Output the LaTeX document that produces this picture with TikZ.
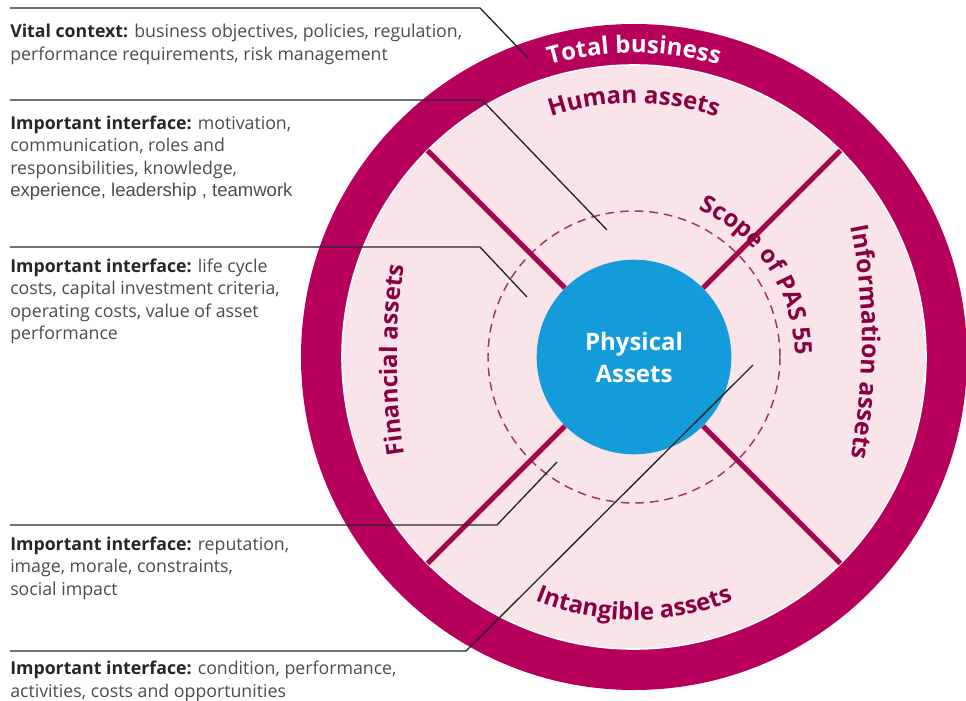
\documentclass[tikz,border=0pt]{standalone}
\usepackage{fontspec}
\setmainfont{Open Sans}
\newfontfamily\arialfont{Liberation Sans}
\usetikzlibrary{decorations.text}

\definecolor{ringred}{RGB}{182,0,92}
\definecolor{sectorpink}{RGB}{249,228,233}
\definecolor{labelred}{RGB}{138,0,62}
\definecolor{divred}{RGB}{165,8,78}
\definecolor{physblue}{RGB}{20,155,218}
\definecolor{notegray}{RGB}{75,75,75}

\newcommand{\arcfont}{\fontsize{18}{20}\selectfont\bfseries}
\newcommand{\lead}[1]{\textcolor{black!85}{\bfseries #1}}

\begin{document}
\begin{tikzpicture}[
	x=0.75pt, y=0.75pt,
	note/.style={
		anchor=north west,
		align=left,
		inner xsep=0pt,
		inner ysep=8.5pt,
		text=notegray,
		font=\fontsize{13.3}{16.9}\selectfont
	},
	Leader/.style={
		line width=1pt,
		black!85
	},
	Divider/.style={
		line width=3.8pt,
		divred
	},
	ArcText/.style={% labels set along an arc
		decorate,
		decoration={
			text along path,
			text align=center,
			text color=labelred,
			text={|\arcfont|#1}
		}
	},
]
	\useasboundingbox (-634,-343) rectangle (332,357);
	\clip (-634,-343) rectangle (332,357);

	% rings
	\fill[ringred] (0,0) circle (333);
	\fill[sectorpink] (0,0) circle (292);
	\draw[white, line width=1.2pt] (0,0) circle (292);
	\draw[labelred!80, line width=1.1pt, dash pattern=on 6.5pt off 4.5pt] (0,0) circle (146);

	\node [circle, fill=physblue, minimum size=146pt, inner sep=0pt, text=white, align=center,
		font=\fontsize{18}{24}\selectfont\bfseries] (phys) at (0,0) {Physical\\Assets};

	\foreach \a in {45,135,225,315}
		\draw [Divider] (phys.\a) -- (\a:292);

	% curved labels
	\path [ArcText={Total business}, decoration={text color=white}] (150:304) arc [start angle=150, end angle=30, radius=304];
	\path [ArcText={Human assets}] (150:254) arc [start angle=150, end angle=30, radius=254];
	\path [ArcText={Financial assets}] (363,-3) ++(200:600) arc [start angle=200, end angle=160, radius=600];
	\path [ArcText={Information assets}, decoration={text={|\fontsize{18.5}{20}\selectfont\bfseries|Information assets}}] (-372,15) ++(20:600) arc [start angle=20, end angle=-20, radius=600];
	\path [ArcText={Intangible assets}] (210:263) arc [start angle=210, end angle=330, radius=263];
	\path [ArcText={Scope of PAS 55}] (98:161) arc [start angle=98, end angle=-31, radius=161];

	% notes on the left
	\node [note, inner ysep=12pt] (vital) at (-624,349) {\lead{Vital context:} business objectives, policies, regulation,\\performance requirements, risk management};
	\node [note, inner ysep=11.5pt] (human) at (-624,257) {\lead{Important interface:} motivation,\\communication, roles and\\responsibilities, knowledge,\\{\arialfont\fontsize{13.9}{16.9}\selectfont experience, leadership , teamwork}};
	\node [note] (money) at (-624,110) {\lead{Important interface:} life cycle\\costs, capital investment criteria,\\operating costs, value of asset\\performance};
	\node [note] (image) at (-624,-168) {\lead{Important interface:} reputation,\\image, morale, constraints,\\social impact};
	\node [note, inner ysep=7.3pt] (state) at (-624,-294) {\lead{Important interface:} condition, performance,\\activities, costs and opportunities};

	\coordinate (vitalknee) at (-154,349);
	\coordinate (vitalend) at (-106,299);
	\coordinate (humanknee) at (-152,257);
	\coordinate (humanend) at (-27,127);
	\coordinate (moneyknee) at (-154,110);
	\coordinate (moneyend) at (-107,60);
	\coordinate (imageknee) at (-137,-168);
	\coordinate (imageend) at (-77,-105);
	\coordinate (stateknee) at (-168,-294);
	\coordinate (stateend) at (119,-8);

	\draw [Leader] (vital.north west) -- (vitalknee) -- (vitalend);
	\draw [Leader] (human.north west) -- (humanknee) -- (humanend);
	\draw [Leader] (money.north west) -- (moneyknee) -- (moneyend);
	\draw [Leader] (image.north west) -- (imageknee) -- (imageend);
	\draw [Leader] (state.north west) -- (stateknee) -- (stateend);
\end{tikzpicture}
\end{document}
